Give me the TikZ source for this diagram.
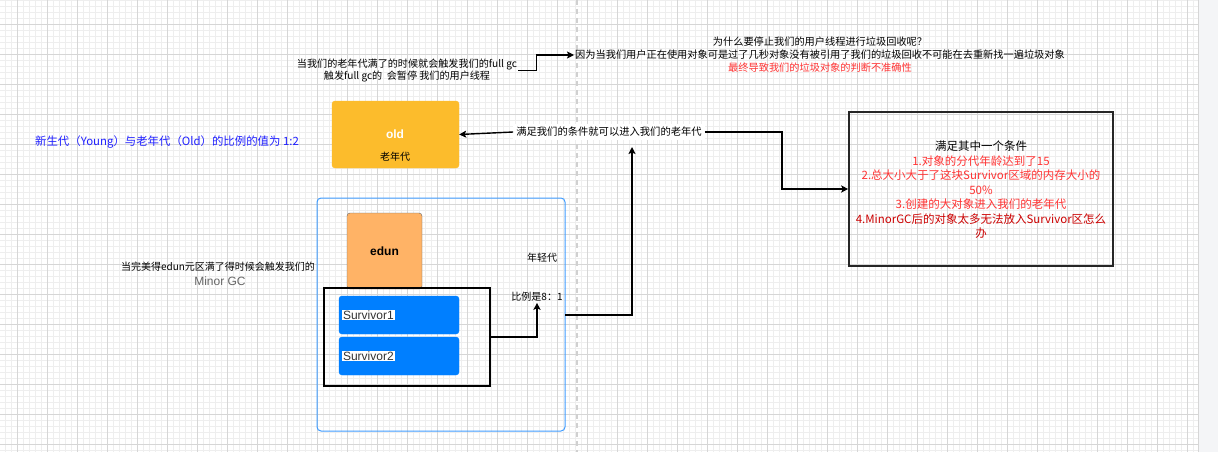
\documentclass[tikz,border=0pt]{standalone}
\usepackage{fontspec}
\setmainfont{Noto Sans CJK SC}
\newfontfamily\lat{Liberation Sans}
\usetikzlibrary{arrows.meta}
\definecolor{oldc}{HTML}{FCBC2C}
\definecolor{edunc}{HTML}{FFB366}
\definecolor{survc}{HTML}{007FFF}
\definecolor{youngc}{HTML}{3F9CFF}
\definecolor{redc}{HTML}{FF3333}
\definecolor{dredc}{HTML}{CC0000}
\definecolor{bluet}{HTML}{1F1FFF}
\definecolor{majg}{HTML}{D6D6D6}
\definecolor{ming}{HTML}{EEEEEE}
\definecolor{sideg}{HTML}{F4F5F7}
\definecolor{dashg}{HTML}{D0D0D0}
\definecolor{survt}{HTML}{333333}
\begin{document}
\begin{tikzpicture}[x=1pt,y=-1pt,
  arr/.style={line width=1.4pt, -{Stealth[length=7pt,width=7pt,inset=1.5pt]}},
  txt/.style={inner sep=1pt, align=center, font=\fontsize{10}{12.5}\selectfont},
  survbox/.style={fill=survc, draw=survc, rounded corners=3pt, minimum width=120pt, minimum height=38pt, inner sep=0pt},
  survlabel/.style={fill=white, text=survt, inner sep=1pt, anchor=west, font=\lat\fontsize{12}{14}\selectfont}
]
\useasboundingbox (0,0) rectangle (1218,452);
\fill[white] (0,0) rectangle (1218,452);
% minor grid
\foreach \x in {5,11,...,1198} \draw[ming, line width=0.8pt] (\x,0) -- (\x,452);
\foreach \y in {0,6,...,452} \draw[ming, line width=0.8pt] (0,\y) -- (1198,\y);
% major grid
\foreach \x in {17,47,...,1198} \draw[majg, line width=0.9pt] (\x,0) -- (\x,452);
\foreach \y in {24,54,...,452} \draw[majg, line width=0.9pt] (0,\y) -- (1198,\y);
% side area
\fill[sideg] (1198,0) rectangle (1218,452);
\draw[majg, line width=1pt] (1198,0) -- (1198,452);
% page break dashed line
\draw[dashg, line width=1.3pt, dash pattern=on 5pt off 4pt] (577,0) -- (577,452);

% young generation container
\node[draw=youngc, line width=1pt, rounded corners=4pt, minimum width=248pt, minimum height=233pt, inner sep=0pt] (young) at (441,314.5) {};
% edun
\node[draw=black!60, fill=edunc, rounded corners=3pt, minimum width=75pt, minimum height=76pt, inner sep=0pt, font=\lat\bfseries\fontsize{12}{14}\selectfont] (edun) at (384.5,251) {edun};
% survivor container
\node[draw=black, line width=1.5pt, minimum width=166pt, minimum height=98pt, inner sep=0pt] (cont) at (407,337) {};
\node[survbox] (s1) at (399,315) {};
\node[survbox] (s2) at (399,356) {};
\node[survlabel] (s1t) at ([xshift=3pt]s1.west) {Survivor1};
\node[survlabel] (s2t) at ([xshift=3pt]s2.west) {Survivor2};
\node[txt] (yl) at (542,258) {年轻代};
\node[txt] (ratio) at (537,297) {比例是8：1};

% old generation
\node[fill=oldc, draw=oldc, rounded corners=3pt, minimum width=127pt, minimum height=67pt, inner sep=0pt] (old) at (395.5,134.5) {};
\node[text=white, inner sep=1pt, font=\lat\bfseries\fontsize{12}{14}\selectfont] (oldt) at (395,134) {old};
\node[txt] (oldc) at (395,157) {老年代};

% blue ratio text
\node[inner sep=1pt, text=bluet, font=\fontsize{11.4}{14}\selectfont] (ratioText) at (167,142) {新生代（Young）与老年代（Old）的比例的值为 1:2};

% left minor gc text
\node[txt] (minor1) at (218,267) {当完美得edun元区满了得时候会触发我们的};
\node[inner sep=1pt, text=black!60, font=\lat\fontsize{12}{14}\selectfont] (minor2) at (220,281) {Minor GC};

% top texts
\node[txt, font=\fontsize{10.1}{11.5}\selectfont] (fullgc) at (407,70.5) {当我们的老年代满了的时候就会触发我们的full gc\\触发full gc的\ \ 会暂停 我们的用户线程};
\node[txt, font=\fontsize{10.2}{13}\selectfont] (why) at (820,55) {为什么要停止我们的用户线程进行垃圾回收呢？\\因为当我们用户正在使用对象可是过了几秒对象没有被引用了我们的垃圾回收不可能在去重新找一遍垃圾对象\\\textcolor{redc}{最终导致我们的垃圾对象的判断不准确性}};

% condition label
\node[fill=white, inner sep=3pt, font=\fontsize{10.3}{12}\selectfont] (cond) at (609,132) {满足我们的条件就可以进入我们的老年代};

% right box
\node[draw=black!85, line width=1.6pt, minimum width=264pt, minimum height=154pt, inner sep=0pt] (right) at (981,189) {};
\node[inner sep=0pt, align=center, font=\fontsize{11.5}{14.5}\selectfont] (rightt) at (981,190) {满足其中一个条件\\
\textcolor{redc}{1.对象的分代年龄达到了15}\\
\textcolor{redc}{2.总大小大于了这块Survivor区域的内存大小的}\\
\textcolor{redc}{50\%}\\
\textcolor{redc}{3.创建的大对象进入我们的老年代}\\
\textcolor{dredc}{4.MinorGC后的对象太多无法放入Survivor区怎么}\\
\textcolor{dredc}{办}};

% connectors
\coordinate (c1) at (782,132);
\coordinate (upend) at (632,147);
\coordinate (yout) at (565,315);
\draw[arr] (cond.west) -- (old.east);
\draw[arr] (cond.east) -- (c1) |- (right.west);
\draw[arr] (yout) -| (upend);
\draw[arr] (cont.east) -| (ratio.south);
\draw[arr] (fullgc.east) -- ++(18,0) |- (why.west);
\end{tikzpicture}
\end{document}
